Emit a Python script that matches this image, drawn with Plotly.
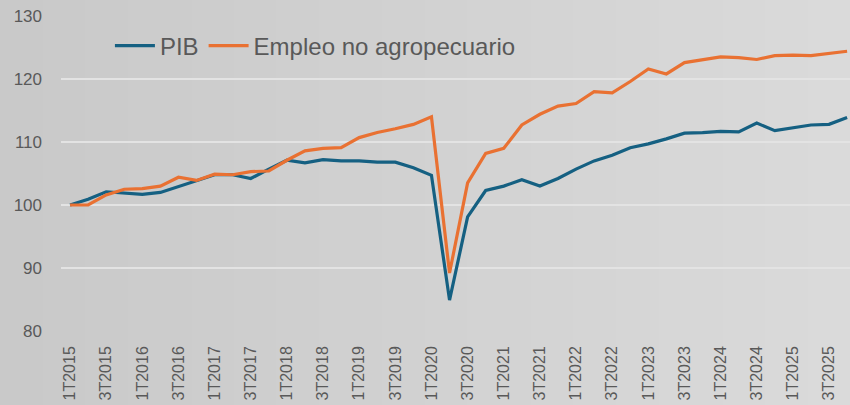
import plotly.graph_objects as go

quarters = [f"{q}T{y}" for y in range(2015, 2026) for q in range(1, 5)]

pib = [100.0, 100.9, 102.1, 101.9, 101.7, 102.0, 102.9, 103.9, 104.8, 104.8,
       104.2, 105.7, 107.1, 106.7, 107.2, 107.0, 107.0, 106.8, 106.8, 105.9,
       104.7, 84.9, 98.1, 102.3, 103.0, 104.0, 103.0, 104.2, 105.7, 107.0,
       107.9, 109.1, 109.7, 110.5, 111.4, 111.5, 111.7, 111.6, 113.0, 111.8,
       112.2, 112.7, 112.8, 113.9]

empleo = [100.0, 100.0, 101.6, 102.5, 102.6, 103.0, 104.4, 103.9, 104.9, 104.8,
          105.3, 105.4, 107.1, 108.6, 109.0, 109.1, 110.7, 111.5, 112.1, 112.8,
          114.0, 89.2, 103.5, 108.2, 109.0, 112.7, 114.4, 115.7, 116.1, 118.0,
          117.8, 119.6, 121.6, 120.8, 122.6, 123.1, 123.5, 123.4, 123.1, 123.7,
          123.8, 123.7, 124.1, 124.4]

tick_labels = quarters[::2]
y_ticks = [80, 90, 100, 110, 120, 130]

fig = go.Figure()
fig.add_trace(go.Scatter(x=quarters, y=pib, name="PIB", mode="lines",
                         line=dict(color="#156082", width=3.2)))
fig.add_trace(go.Scatter(x=quarters, y=empleo, name="Empleo no agropecuario", mode="lines",
                         line=dict(color="#E97132", width=3.2)))

# background gradient (left darker, right lighter)
L, B, T = 61, 74, 16
W, H = 789, 315
n = 40
x0p = -L / W
for i in range(n):
    a = x0p + (1 - x0p) * i / n
    b = x0p + (1 - x0p) * (i + 1) / n + 0.002
    t = i / (n - 1)
    c = int(round(201 + (218 - 201) * t))
    fig.add_shape(type="rect", xref="paper", yref="paper", x0=a, x1=b,
                  y0=-B / H, y1=1 + T / H, line=dict(width=0),
                  fillcolor=f"rgb({c},{c},{c})", layer="below")

fig.update_layout(
    width=850, height=405,
    margin=dict(l=L, r=0, t=T, b=B, autoexpand=False),
    paper_bgcolor="#d2d2d2",
    plot_bgcolor="rgba(0,0,0,0)",
    font=dict(family="Liberation Sans, Arial, sans-serif", color="#595959", size=16),
    showlegend=True,
    legend=dict(orientation="h", x=0.062, y=0.905, xanchor="left", yanchor="middle",
                font=dict(size=24, color="#595959"), bgcolor="rgba(0,0,0,0)",
                itemwidth=40),
    xaxis=dict(type="category", range=[-0.5, 43.16], tickmode="array",
               tickvals=tick_labels, ticktext=tick_labels, tickangle=-90,
               showgrid=False, zeroline=False, showline=False, ticks="",
               tickfont=dict(size=16, color="#595959"), ticklabelstandoff=11,
               automargin=False),
    yaxis=dict(range=[80, 130], tickvals=y_ticks, showgrid=True,
               gridcolor="#e3e3e3", gridwidth=1.5, zeroline=False, showline=False,
               ticks="", tickfont=dict(size=17, color="#595959"),
               ticklabelstandoff=18, automargin=False),
)

fig.write_html("out.html", config={"displayModeBar": False},
               post_script="document.body.style.margin='0';")
